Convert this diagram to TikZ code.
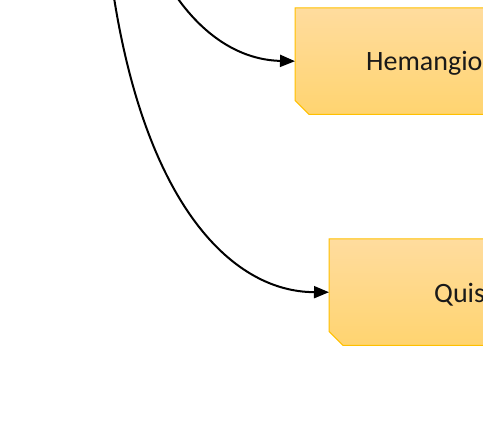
\documentclass[tikz,border=0pt]{standalone}
\usepackage{fontspec}
\setmainfont{Carlito}
\usetikzlibrary{arrows.meta,calc}
\definecolor{boxtop}{HTML}{FFDC9E}
\definecolor{boxbot}{HTML}{FFD470}
\definecolor{boxline}{HTML}{FFC000}
\tikzset{
  boxframe/.style={rectangle, minimum height=106pt, minimum width=300pt,
    inner sep=0pt, anchor=north west},
  boxfill/.style={draw=boxline, line width=1pt, top color=boxtop, bottom color=boxbot},
  lbl/.style={font=\fontsize{28}{30}\selectfont, anchor=base west, inner sep=0pt, text=black!90},
  conn/.style={line width=2pt, -{Triangle[length=15pt,width=12pt]}}
}
\newcommand{\snipbox}[1]{%
  \path[boxfill] (#1.north west) -- (#1.north east) -- (#1.south east)
    -- ($(#1.south west)+(14,0)$) -- ($(#1.south west)+(0,-14)$) -- cycle;}
\begin{document}
\begin{tikzpicture}[x=1pt,y=-1pt]
\useasboundingbox (0,0) rectangle (483,444);
\clip (0,0) rectangle (483,444);
\fill[white] (0,0) rectangle (483,444);
\node[boxframe] (b1) at (295,8) {};
\node[boxframe] (b2) at (329,239) {};
\snipbox{b1}
\snipbox{b2}
\node[lbl] (t1) at (366,71) {Hemangioma};
\node[lbl] (t2) at (434,302) {Quiste};
\coordinate (s1) at (160,-30);
\coordinate (s2) at (110,-30);
\draw[conn] (s1) .. controls (195,35) and (240,60) .. (b1.west);
\draw[conn] (s2) .. controls (140,200) and (230,292) .. (b2.west);
\end{tikzpicture}
\end{document}
